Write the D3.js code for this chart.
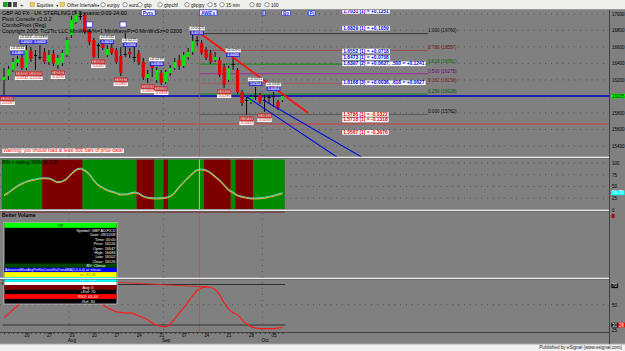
<!DOCTYPE html>
<html lang="en">
<head>
<meta charset="UTF-8">
<title>GBP A0 FX - Pivot Console</title>
<script src="https://cdn.jsdelivr.net/npm/d3@7"></script>
<style>
  html, body { margin: 0; padding: 0; background: #808080; overflow: hidden; }
  svg { display: block; font-family: "Liberation Sans", Arial, sans-serif; }
</style>
</head>
<body>
<svg></svg>
<script>
// daily bars, 13 Jul 2009 .. 7 Oct 2009 (prices x10000)
const openP  = [16199,16247,16320,16405,16465,16344,16550,16502,16477,16538,16417,16514,16381,16405,16502,16743,16901,16973,16986,16780,16683,16622,16683,16502,16586,16562,16489,16502,16538,16465,16526,16417,16223,16405,16199,16284,16175,16284,16344,16441,16368,16477,16538,16683,16647,16562,16526,16441,16441,16356,16199,16393,16320,16054,15957,15933,15993,16018,15957,15981,15993,15933,15957];
const highP  = [16344,16368,16465,16489,16562,16622,16598,16562,16622,16586,16562,16562,16502,16562,16719,16973,17046,17022,17010,16816,16707,16647,16731,16622,16719,16586,16598,16768,16586,16647,16562,16465,16320,16441,16356,16320,16320,16381,16465,16502,16538,16586,16768,16731,16683,16598,16562,16538,16477,16393,16368,16465,16344,16078,15993,16018,16114,16042,16018,16018,16054,15957,16030];
const lowP   = [16018,16199,16296,16368,16320,16320,16417,16320,16441,16393,16381,16368,16332,16368,16477,16707,16877,16925,16756,16622,16465,16465,16562,16477,16502,16393,16247,16477,16465,16417,16381,16199,16163,16235,16163,16139,16151,16247,16320,16320,16344,16441,16502,16610,16502,16441,16393,16417,16235,16102,16175,16320,16030,15884,15775,15909,15957,15909,15812,15921,15872,15836,15933];
const closeP = [16235,16332,16417,16453,16344,16562,16453,16489,16470,16417,16502,16405,16465,16526,16683,16925,16998,16961,16780,16659,16477,16610,16586,16574,16526,16417,16284,16514,16514,16477,16405,16235,16272,16344,16320,16163,16296,16344,16417,16368,16502,16538,16671,16671,16526,16465,16417,16477,16260,16139,16344,16381,16054,15921,15950,15993,16005,15933,15945,15993,16005,15860,16005];

// RSI (trailing SMA) and lower oscillator, one value per bar
const rsiVals = [32,38,45,52,57,61,64,66,68,68.5,68,64,60,62,68,78,86,89,85,77,64,54,48,43,40,37,34,34,36,38,36,30,27,26,25.5,26,27,30,38,50,60,70,79,86,87,85,80,72,64,54,44,38,32,29,27,25.5,25.5,26,27,29,31,34,36.7];
const oscVals = [37,41,45,49,53,57,60,62,63,64,63,62,62,63,66,70,73,74,72,67,61,55,50,47,45,43,42.5,42,42,41,39,37,35,32,30,28.5,28.4,31,36,42,47,53,59,64,66.5,67.6,67,65,60,52,46,42,40,35,31,28.4,27,26.5,26.5,26.5,26.5,27,28];

// RSI background regimes (bar ranges)
const zoneFrom = [0, 9, 18, 30, 34, 36, 37, 45, 51, 52, 56];
const zoneTo   = [8, 17, 29, 33, 35, 36, 44, 50, 51, 55, 62];
const zoneUp   = [1, 0, 1, 0, 1, 0, 1, 0, 1, 0, 1];

// axis ticks
const tickIdx  = [5, 10, 15, 20, 25, 30, 35, 40, 45, 50, 55, 60];
const tickLab  = ["20","27","03","10","17","24","31","07","14","21","28","05"];
const monthIdx = [15, 36, 58];
const monthLab = ["Aug","Sep","Oct"];
const priceTicks = [15400,15600,15800,16000,16200,16400,16600,16800,17000];
const rsiTicks = [25, 50, 75, 100];

// fibonacci retracement
const fibLevel = ["1.000","0.786","0.618","0.500","0.382","0.250","0.000"];
const fibPrice = [16760,16557,16391,16275,16158,16028,15782];
const fibStartIdx = 43.5, fibEndIdx = 94.4;

// pivot projections
const projPrice = [17031,16829,16552,16473,16397,16168,15786,15718,15567];
const projCnt   = [1,1,1,1,2,3,1,1,1];
const projDiff  = ["+0.1251","+0.1059","+0.0718","+0.0708","+0.0627, .500 = +0.1241","+0.0036, .618 = +0.0627","-0.0322","-0.1318","-0.3676"];
const projIdx = 75.5;

// swing pivots
const pivH     = [3,5,8,23,28,34,43,51,56,60];
const pivHDiff = ["+0.0141","+0.0245","+0.0189","+0.0145","+0.0225","+0.0239","+0.0225","+0.0290","+0.0211","+0.0160"];
const pivL     = [0,4,7,12,21,26,32,35,49,54,58];
const pivLDiff = ["-0.0187","-0.0242","-0.0242","-0.0230","-0.0267","-0.0351","-0.0303","-0.0326","-0.0290","-0.0322","-0.0203"];

// trend lines [idx, price]
const redTrend   = [[43.6,16768],[67.7,15800]];
const blueTrend1 = [[54.1,15993],[74.1,15267]];
const blueTrend2 = [[57.7,15957],[79.6,15267]];
const supportPrice = 15667;
const oscTrend = [[17,74],[45,67.6]];
const cursorIdx = 44;

// ---------------------------------------------------------------
const W = 625, H = 351, axisX = 609;
const svg = d3.select("svg").attr("width", W).attr("height", H);

const x  = d3.scaleLinear().domain([0, 62]).range([4, 282.5]);
const yP = d3.scaleLinear().domain([15400, 17000]).range([146, 13.8]);
const yR = d3.scaleLinear().domain([0, 100]).range([210, 163]);
const yO = d3.scaleLinear().domain([30, 70]).range([325, 284.5]);
const f4 = d3.format(".4f");

svg.append("defs").append("clipPath").attr("id", "clipPrice")
  .append("rect").attr("x", 0).attr("y", 10).attr("width", axisX).attr("height", 147);

// background, toolbar, status bar
svg.append("rect").attr("width", W).attr("height", H).attr("fill", "#808080");
svg.append("rect").attr("width", W).attr("height", 9.5).attr("fill", "#efefec");
svg.append("line").attr("x1", 0).attr("x2", W).attr("y1", 9.5).attr("y2", 9.5).attr("stroke", "#9a9a9a");
svg.append("rect").attr("y", 344).attr("width", W).attr("height", 7).attr("fill", "#f2f2f2");
svg.append("line").attr("x1", 0).attr("x2", W).attr("y1", 344).attr("y2", 344).attr("stroke", "#a8a8a8");
svg.append("text").attr("x", 622).attr("y", 349.3).attr("text-anchor", "end")
  .attr("font-size", 4.6).attr("fill", "#222").text("Published by eSignal (www.esignal.com)");

// helper: text with a box behind it (kept inside the left edge)
function boxText(g, px, py, txt, o) {
  const t = g.append("text").attr("x", px).attr("y", py).attr("dy", "0.35em")
    .attr("text-anchor", o.anchor || "start")
    .attr("font-size", o.size || 5)
    .attr("font-weight", o.weight || "normal")
    .attr("fill", o.color || "#000").text(txt);
  const pad = o.pad == null ? 0.7 : o.pad;
  let b = t.node().getBBox();
  if (b.x - pad < 0.5) {
    t.attr("x", px + (0.5 - (b.x - pad)));
    b = t.node().getBBox();
  }
  g.insert("rect", () => t.node())
    .attr("x", b.x - pad).attr("y", b.y + 0.2)
    .attr("width", b.width + 2 * pad).attr("height", b.height - 0.4)
    .attr("fill", o.fill || "#fff")
    .attr("stroke", o.stroke || "none").attr("stroke-width", 0.6);
  return t;
}

// toolbar
const tb = svg.append("g").attr("font-size", 4.6).attr("fill", "#111");
tb.append("rect").attr("x", 3).attr("y", 2).attr("width", 4).attr("height", 5).attr("fill", "#20a020");
tb.append("rect").attr("x", 7.5).attr("y", 2).attr("width", 4).attr("height", 5).attr("fill", "#303030");
tb.append("rect").attr("x", 13).attr("y", 2).attr("width", 4).attr("height", 5).attr("fill", "#505050");
tb.append("text").attr("x", 20).attr("y", 7).attr("font-size", 6).text("+");
[30, 60].forEach(px => tb.append("rect").attr("x", px).attr("y", 2.5).attr("width", 4.5).attr("height", 4)
  .attr("fill", "#f0d060").attr("stroke", "#a08020").attr("stroke-width", 0.4));
tb.append("text").attr("x", 37).attr("y", 6.6).text("Equities");
tb.append("text").attr("x", 55.5).attr("y", 6.6).attr("font-size", 3.5).text("▼");
tb.append("text").attr("x", 67).attr("y", 6.6).text("Other Intervals");
tb.append("text").attr("x", 96.5).attr("y", 6.6).attr("font-size", 3.5).text("▼");
const tbItems = [[103,"eurjpy"],[125,"euro"],[140,"gbp"],[160,"gbpchf"],[187,"gbpjpy"],[210,"5"],[222,"15 min"],[252,"60"],[267,"100"]];
tbItems.forEach(([px, s]) => {
  tb.append("circle").attr("cx", px).attr("cy", 4.7).attr("r", 2.2).attr("fill", "#fff").attr("stroke", "#333").attr("stroke-width", 0.5);
  tb.append("text").attr("x", px + 4).attr("y", 6.6).text(s);
});

// ---- grid ----
const grid = svg.append("g").attr("stroke", "#2e2e2e").attr("stroke-width", 0.7).attr("stroke-dasharray", "0.8,5");
priceTicks.forEach(p => grid.append("line").attr("x1", 0).attr("x2", axisX).attr("y1", yP(p)).attr("y2", yP(p)));
rsiTicks.forEach(v => grid.append("line").attr("x1", 0).attr("x2", axisX).attr("y1", yR(v)).attr("y2", yR(v)));
grid.append("line").attr("x1", 0).attr("x2", axisX).attr("y1", yO(50)).attr("y2", yO(50));
monthIdx.forEach(i => grid.append("line").attr("x1", x(i - 0.5)).attr("x2", x(i - 0.5)).attr("y1", 10).attr("y2", 332));

// ---- RSI panel ----
const rsiG = svg.append("g");
zoneFrom.forEach((f, k) => {
  rsiG.append("rect").attr("x", x(f - 0.5)).attr("y", 159.6)
    .attr("width", x(zoneTo[k] + 0.5) - x(f - 0.5)).attr("height", 49.4)
    .attr("fill", zoneUp[k] ? "#008a00" : "#7c0000");
});
const rsiLine = d3.line().x((d, i) => x(i)).y(d => yR(d)).curve(d3.curveMonotoneX);
rsiG.append("path").datum(rsiVals).attr("d", rsiLine).attr("fill", "none")
  .attr("stroke", "#e0a020").attr("stroke-width", 1.2).attr("transform", "translate(0,0.9)");
rsiG.append("path").datum(rsiVals).attr("d", rsiLine).attr("fill", "none")
  .attr("stroke", "#60e0d0").attr("stroke-width", 1);
rsiG.append("text").attr("x", 2).attr("y", 163.5).attr("font-size", 4.8).attr("fill", "#000")
  .text("RSI + trailing SMA(10,2,2)");

// ---- price panel ----
const pg = svg.append("g").attr("clip-path", "url(#clipPrice)");

// fib lines
const fibColor = ["#303030","#a04545","#009000","#a020a0","#a05a5a","#009000","#555555"];
const fibText  = ["#101010","#7a1414","#006800","#700070","#7a2020","#005a00","#101010"];
fibPrice.forEach((p, k) => {
  pg.append("line").attr("x1", x(fibStartIdx)).attr("x2", x(fibEndIdx))
    .attr("y1", yP(p)).attr("y2", yP(p)).attr("stroke", fibColor[k]).attr("stroke-width", 0.9);
  pg.append("text").attr("x", x(fibEndIdx)).attr("y", yP(p) - 1.2)
    .attr("font-size", 4.6).attr("fill", fibText[k]).text(`${fibLevel[k]} (${p})`);
});

// last price & support lines
const lastClose = closeP[closeP.length - 1];
pg.append("line").attr("x1", 0).attr("x2", axisX).attr("y1", yP(supportPrice)).attr("y2", yP(supportPrice))
  .attr("stroke", "#e03434").attr("stroke-width", 0.9);
pg.append("line").attr("x1", 0).attr("x2", axisX).attr("y1", yP(lastClose)).attr("y2", yP(lastClose))
  .attr("stroke", "#0000c8").attr("stroke-width", 1.3);

// cursor
svg.append("line").attr("x1", x(cursorIdx - 0.5)).attr("x2", x(cursorIdx - 0.5)).attr("y1", 10).attr("y2", 332)
  .attr("stroke", "#d04848").attr("stroke-width", 0.8);
svg.append("line").attr("x1", x(cursorIdx - 0.5)).attr("x2", x(cursorIdx - 0.5)).attr("y1", 159.6).attr("y2", 209)
  .attr("stroke", "#a8e8a0").attr("stroke-width", 0.8);

// candles
const bars = d3.range(openP.length).map(i => ({ i, o: openP[i], h: highP[i], l: lowP[i], c: closeP[i] }));
const cg = pg.append("g");
cg.selectAll(".wick").data(bars).join("line")
  .attr("x1", d => x(d.i)).attr("x2", d => x(d.i))
  .attr("y1", d => yP(d.h)).attr("y2", d => yP(d.l))
  .attr("stroke", "#000").attr("stroke-width", 0.9);
cg.selectAll(".body").data(bars).join("rect")
  .attr("x", d => x(d.i) - 1.6).attr("width", 3.2)
  .attr("y", d => yP(Math.max(d.o, d.c)))
  .attr("height", d => Math.max(1, yP(Math.min(d.o, d.c)) - yP(Math.max(d.o, d.c))))
  .attr("fill", d => Math.abs(d.c - d.o) < 15 ? "#000" : (d.c > d.o ? "#00e800" : "#e80000"));

// trend lines
const tl = d3.line().x(d => x(d[0])).y(d => yP(d[1]));
pg.append("path").attr("d", tl(blueTrend1)).attr("stroke", "#0010e0").attr("stroke-width", 1.1).attr("fill", "none");
pg.append("path").attr("d", tl(blueTrend2)).attr("stroke", "#0010e0").attr("stroke-width", 1.1).attr("fill", "none");
pg.append("path").attr("d", tl(redTrend)).attr("stroke", "#ff1010").attr("stroke-width", 1.8).attr("fill", "none");

// swing pivot labels
const lg = pg.append("g");
pivH.forEach((i, k) => {
  const yy = yP(highP[i]);
  boxText(lg, x(i), yy - 3.4, f4(highP[i] / 10000), { anchor: "middle", size: 3.8, fill: "#5a5aff", stroke: "#1010d0", color: "#fff" });
  boxText(lg, x(i), yy - 7.9, pivHDiff[k], { anchor: "middle", size: 3.8, fill: "#fff", color: "#000" });
});
pivL.forEach((i, k) => {
  const yy = yP(lowP[i]);
  boxText(lg, x(i), yy + 3.4, f4(lowP[i] / 10000), { anchor: "middle", size: 3.8, fill: "#d9a0a0", stroke: "#e00000", color: "#c00000" });
  boxText(lg, x(i), yy + 7.9, pivLDiff[k], { anchor: "middle", size: 3.8, fill: "#fff", color: "#e00000" });
});

// small markers
[[19, 24.5],[26.5, 24.5]].forEach(([i, yy]) =>
  lg.append("rect").attr("x", x(i) - 3).attr("y", yy - 2.5).attr("width", 6).attr("height", 5)
    .attr("fill", "#fff").attr("stroke", "#2020e0").attr("stroke-width", 0.6));

// projection labels
projPrice.forEach((p, k) => {
  const neg = projDiff[k].startsWith("-");
  boxText(pg, x(projIdx), yP(p), `${f4(p / 10000)} (${projCnt[k]}) = ${projDiff[k]}`,
    { size: 4.9, weight: "bold", fill: "#fff", color: neg ? "#e00000" : "#0000d8", pad: 0.8 });
});

// top chart captions
const cap = svg.append("g").attr("font-size", 5.4).attr("fill", "#000");
["GBP A0 FX - UK STERLING,D; Dynamic;0:00-24:00", "Pivot Console v2.0.2", "ComboPivot (Reg)",
 "Copyright 2005 Tic2Tic LLC MinWeek%=1 MinWavePt=0 MinWvSz=0.0200"].forEach((s, k) =>
  cap.append("text").attr("x", 2).attr("y", 14.6 + k * 6).text(s));
boxText(svg, x(31) - 0.5, 13, "Pvts", { size: 5, weight: "bold", fill: "#fff", stroke: "#2020e0", color: "#2020e0", pad: 1.5 });
boxText(svg, x(44) - 0.6, 13, "AWEs", { size: 5, weight: "bold", fill: "#fff", stroke: "#2020e0", color: "#2020e0", pad: 1.5 });
boxText(svg, 263, 13, "I", { size: 4.5, weight: "bold", fill: "#fff", stroke: "#2020e0", color: "#2020e0", pad: 0.8 });
boxText(svg, 283, 13, "Bo", { size: 4.5, weight: "bold", fill: "#fff", stroke: "#2020e0", color: "#2020e0", pad: 1.2 });
boxText(svg, 309.5, 13, "Pj", { size: 4.5, weight: "bold", fill: "#fff", stroke: "#2020e0", color: "#2020e0", pad: 1.2 });

// warning
boxText(svg, 3.2, 150.6, "Warning: you should load at least 800 bars of price data!",
  { size: 4.8, fill: "#fff", color: "#f00000", pad: 0.8 });

// ---- lower oscillator panel ----
const og = svg.append("g");
[70, 30].forEach(v => og.append("line").attr("x1", x(-0.3)).attr("x2", x(62.6))
  .attr("y1", yO(v)).attr("y2", yO(v)).attr("stroke", "#303030").attr("stroke-width", 1));
og.append("path").attr("d", d3.line().x(d => x(d[0])).y(d => yO(d[1]))(oscTrend))
  .attr("stroke", "#e02020").attr("stroke-width", 0.9).attr("fill", "none");
og.append("path").datum(oscVals)
  .attr("d", d3.line().x((d, i) => x(i)).y(d => yO(d)).curve(d3.curveMonotoneX))
  .attr("fill", "none").attr("stroke", "#ff1a1a").attr("stroke-width", 1.2);
og.append("text").attr("x", 1.5).attr("y", 284).attr("font-size", 5).attr("font-weight", "bold").text("JRSX");
svg.append("text").attr("x", 2).attr("y", 216.8).attr("font-size", 5).attr("font-weight", "bold")
  .attr("fill", "#000").text("Better Volume");
svg.append("line").attr("x1", x(-0.5)).attr("x2", x(62.5)).attr("y1", 212).attr("y2", 212)
  .attr("stroke", "#7a0000").attr("stroke-width", 0.8);

// ---- data window ----
const dw = svg.append("g");
dw.append("rect").attr("x", 4).attr("y", 222.5).attr("width", 113).attr("height", 81.5)
  .attr("fill", "#000").attr("stroke", "#c8c8c8").attr("stroke-width", 0.8);
const cb = bars[cursorIdx];
const rowBg = [
  [222.8, 5, "#00ff00"], [263.5, 4.3, "#004400"], [267.8, 4.3, "#0000ff"], [272.1, 5, "#ffff00"],
  [277.1, 4.8, "#00ffff"], [281.9, 3.2, "#ffffff"], [285.1, 4.6, "#800000"], [294.1, 4.8, "#ff0000"]
];
rowBg.forEach(([yy, hh, c]) => dw.append("rect").attr("x", 4.4).attr("y", yy).attr("width", 112.2).attr("height", hh).attr("fill", c));
const dt = dw.append("g").attr("font-size", 3.9).attr("fill", "#fff");
dt.append("text").attr("x", 60.5).attr("y", 226.8).attr("text-anchor", "middle").attr("fill", "#000").text("OP");
["Symbol: GBP A0-FX,D", "Date: 09/11/09", "Time: 00:00", `Price: ${cb.c}`, `Open: ${cb.o}`,
 `High: ${cb.h}`, `Low: ${cb.l}`, `Close: ${cb.c}`].forEach((s, k) =>
  dt.append("text").attr("x", 115.5).attr("y", 232 + k * 4.4).attr("text-anchor", "end").text(s));
dt.append("text").attr("x", 96).attr("y", 267.1).attr("text-anchor", "middle").text("BV: Climax");
dt.append("text").attr("x", 5).attr("y", 271.3).attr("font-size", 3.5)
  .text("AdvancedMovAvgPtsRsiCrossRsiTrendMA(5,5,0,0) at: nfxcav");
dt.append("text").attr("x", 88).attr("y", 276).attr("text-anchor", "middle").attr("fill", "#8a8a00").text("rsi: 82.31");
dt.append("text").attr("x", 88).attr("y", 280.9).attr("text-anchor", "middle").text("rsi: 70.15");
dt.append("text").attr("x", 88).attr("y", 288.8).attr("text-anchor", "middle").text("Avg: 0");
dt.append("text").attr("x", 88).attr("y", 293.2).attr("text-anchor", "middle").text("+Ref: 70");
dt.append("text").attr("x", 88).attr("y", 297.9).attr("text-anchor", "middle").text("RSX: 63.44");
dt.append("text").attr("x", 88).attr("y", 302.7).attr("text-anchor", "middle").text("-Ref: 30");

// ---- panel separators & frame ----
[157.3, 210.3, 278.3].forEach(yy => {
  svg.append("line").attr("x1", 0).attr("x2", axisX).attr("y1", yy).attr("y2", yy).attr("stroke", "#f4f4f4").attr("stroke-width", 1.2);
  svg.append("line").attr("x1", 0).attr("x2", axisX).attr("y1", yy + 1.1).attr("y2", yy + 1.1).attr("stroke", "#5c5c5c").attr("stroke-width", 0.6);
});
svg.append("line").attr("x1", 0).attr("x2", axisX).attr("y1", 332.5).attr("y2", 332.5).attr("stroke", "#3a3a3a").attr("stroke-width", 0.9);
svg.append("line").attr("x1", axisX + 0.5).attr("x2", axisX + 0.5).attr("y1", 10).attr("y2", 344).attr("stroke", "#3a3a3a").attr("stroke-width", 0.9);

// ---- axes ----
function styleAxis(g, size) {
  g.attr("font-family", null).attr("font-size", null);
  g.select(".domain").remove();
  g.selectAll("text").attr("font-size", size).attr("fill", "#000");
  g.selectAll("line").attr("stroke", "#3a3a3a");
}
svg.append("g").attr("transform", "translate(0,332.5)")
  .call(d3.axisBottom(x).tickValues(d3.range(openP.length)).tickSize(1.5).tickFormat(""))
  .call(g => styleAxis(g, 4));
svg.append("g").attr("transform", "translate(0,332)")
  .call(d3.axisBottom(x).tickValues(tickIdx).tickSize(0).tickPadding(1.6).tickFormat((d, k) => tickLab[k]))
  .call(g => styleAxis(g, 4.5));
svg.append("g").attr("transform", "translate(0,337.6)")
  .call(d3.axisBottom(x).tickValues(monthIdx).tickSize(0).tickPadding(1).tickFormat((d, k) => monthLab[k]))
  .call(g => styleAxis(g, 4.6));

svg.append("g").attr("transform", `translate(${axisX},0)`)
  .call(d3.axisRight(yP).tickValues(priceTicks).tickSize(0).tickPadding(3).tickFormat(d3.format("d")))
  .call(g => styleAxis(g, 4.5));
svg.append("g").attr("transform", `translate(${axisX},0)`)
  .call(d3.axisRight(yR).tickValues(rsiTicks).tickSize(0).tickPadding(3))
  .call(g => styleAxis(g, 4.5));
svg.append("g").attr("transform", `translate(${axisX},0)`)
  .call(d3.axisRight(yO).tickValues([50, 25]).tickSize(0).tickPadding(3))
  .call(g => styleAxis(g, 4.5));

// right-side value boxes
boxText(svg, axisX + 3, yP(lastClose), String(lastClose), { size: 4.5, fill: "#00ff00", color: "#000", pad: 0.8 });
boxText(svg, axisX + 3, yR(rsiVals[rsiVals.length - 1]), d3.format(".2f")(rsiVals[rsiVals.length - 1]),
  { size: 4.5, fill: "#00ffff", color: "#fff", pad: 0.8 });
svg.append("text").attr("x", axisX + 3).attr("y", 211.6).attr("font-size", 4.5).text("0");
boxText(svg, axisX + 3, 215.8, "3", { size: 3.8, fill: "#c00000", color: "#400000", pad: 0.4 });
boxText(svg, axisX + 3, yO(70) + 1.2, "70", { size: 4.5, fill: "#000", color: "#fff", pad: 0.6 });
boxText(svg, axisX + 3, yO(30), "30", { size: 4.5, fill: "#000", color: "#fff", pad: 0.6 });
boxText(svg, axisX + 10, yO(30), d3.format(".0f")(oscVals[oscVals.length - 1]), { size: 4.5, fill: "#ff0000", color: "#fff", pad: 0.8 });
</script>
</body>
</html>
